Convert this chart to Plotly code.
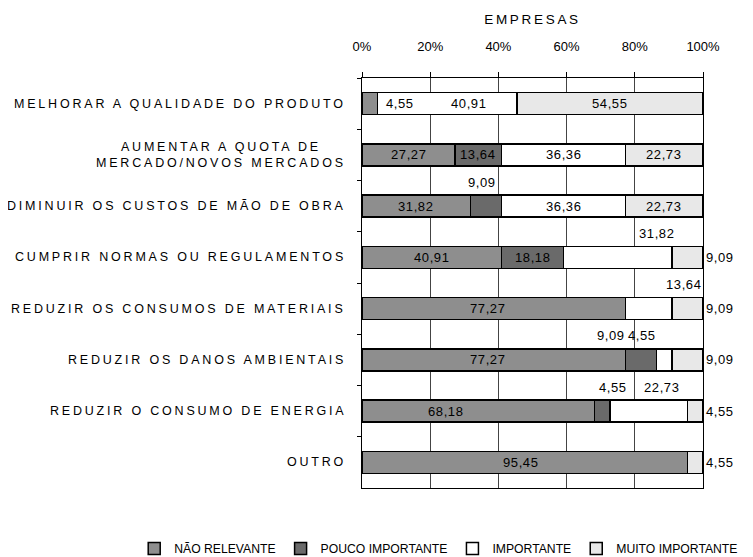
import plotly.graph_objects as go

categories = [
    "MELHORAR A QUALIDADE DO PRODUTO",
    "AUMENTAR A QUOTA DE<br>MERCADO/NOVOS MERCADOS",
    "DIMINUIR OS CUSTOS DE MÃO DE OBRA",
    "CUMPRIR NORMAS OU REGULAMENTOS",
    "REDUZIR OS CONSUMOS DE MATERIAIS",
    "REDUZIR OS DANOS AMBIENTAIS",
    "REDUZIR O CONSUMO DE ENERGIA",
    "OUTRO",
]

series_names = ["NÃO RELEVANTE", "POUCO IMPORTANTE", "IMPORTANTE", "MUITO IMPORTANTE"]
nao_relevante = [4.55, 27.27, 31.82, 40.91, 77.27, 77.27, 68.18, 95.45]
pouco_importante = [0, 13.64, 9.09, 18.18, 0, 9.09, 4.55, 0]
importante = [40.91, 36.36, 36.36, 31.82, 13.64, 4.55, 22.73, 0]
muito_importante = [54.55, 22.73, 22.73, 9.09, 9.09, 9.09, 4.55, 4.55]

tick_vals = [0, 20, 40, 60, 80, 100]
tick_text = ["0%", "20%", "40%", "60%", "80%", "100%"]

series = [nao_relevante, pouco_importante, importante, muito_importante]
colors = ["#8e8e8e", "#6a6a6a", "#ffffff", "#e8e8e8"]

# where each data label sits: (row, series, placement, x in % or None = segment centre)
label_spec = [
    (0, 0, "in", 11.1), (0, 2, "in", 31.5), (0, 3, "in", None),
    (1, 0, "in", None), (1, 1, "in", None), (1, 2, "in", None), (1, 3, "in", None),
    (2, 0, "in", None), (2, 1, "above", 35.2), (2, 2, "in", None), (2, 3, "in", None),
    (3, 0, "in", None), (3, 1, "in", None), (3, 2, "above", 86.5), (3, 3, "right", None),
    (4, 0, "in", 37), (4, 2, "above", 94.5), (4, 3, "right", None),
    (5, 0, "in", 37), (5, 1, "above", 73), (5, 2, "above", 82), (5, 3, "right", None),
    (6, 0, "in", 24.6), (6, 1, "above", 73.6), (6, 2, "above", 88), (6, 3, "right", None),
    (7, 0, "in", 46.7), (7, 3, "right", None),
]


def spaced(txt, px):
    # the scanned chart has widely tracked lettering
    return "<br>".join(f'<span style="letter-spacing:{px}px">{part}</span>'
                       for part in txt.split("<br>"))


def fmt(v):
    return f"{v:.2f}".replace(".", ",")


fig = go.Figure()
for name, vals, col in zip(series_names, series, colors):
    fig.add_trace(go.Bar(
        y=categories, x=vals, name=name, orientation="h",
        marker=dict(color=col, line=dict(color="black", width=1.5)),
        hoverinfo="x+name",
    ))

annotations = []
for row, s, where, xpos in label_spec:
    v = series[s][row]
    start = sum(series[k][row] for k in range(s))
    if xpos is None:
        xpos = start + v / 2
    txt = spaced(fmt(v), 0.6)
    if where == "in":
        annotations.append(dict(x=xpos, y=row, text=txt, showarrow=False,
                                xref="x", yref="y", font=dict(size=13)))
    elif where == "above":
        annotations.append(dict(x=xpos, y=row - 0.47, text=txt, showarrow=False,
                                xref="x", yref="y", font=dict(size=13)))
    else:
        annotations.append(dict(x=100, y=row, text=txt, showarrow=False,
                                xref="x", yref="y", xanchor="left", xshift=1,
                                font=dict(size=13)))

# category labels (right-aligned block, centred lines)
for i, c in enumerate(categories):
    annotations.append(dict(x=0, y=i, text=spaced(c, 2.8), showarrow=False,
                            xref="paper", yref="y", xanchor="right", xshift=-14,
                            align="center", font=dict(size=12.5)))

# the page body adds an 8px offset, so margins are shifted to compensate
fig.update_layout(
    barmode="stack",
    bargap=0.57,
    width=753,
    height=575,
    margin=dict(l=354, r=58, t=70, b=95),
    plot_bgcolor="white",
    paper_bgcolor="white",
    font=dict(family="Arial", color="black", size=11),
    annotations=annotations,
    legend=dict(orientation="h", x=-0.668, xanchor="left", y=-0.112, yanchor="top",
                font=dict(size=12.2), traceorder="normal", itemwidth=30),
)

fig.update_xaxes(
    side="top", range=[0, 100], tickvals=tick_vals, ticktext=tick_text,
    showgrid=True, gridcolor="#444444", gridwidth=1,
    showline=True, linecolor="black", linewidth=1, mirror=True,
    ticks="outside", ticklen=5, tickcolor="black", ticklabelstandoff=16,
    tickfont=dict(size=13), zeroline=False, automargin=False,
    title=dict(text=spaced("EMPRESAS", 2.7), font=dict(size=13.5), standoff=11),
)
fig.update_yaxes(
    type="category", categoryorder="array", categoryarray=categories,
    autorange="reversed", showticklabels=False, showgrid=False,
    showline=True, linecolor="black", linewidth=1, mirror=True, automargin=False,
    ticks="outside", tickson="boundaries", ticklen=4, tickcolor="black",
)

fig.write_html("out.html")
